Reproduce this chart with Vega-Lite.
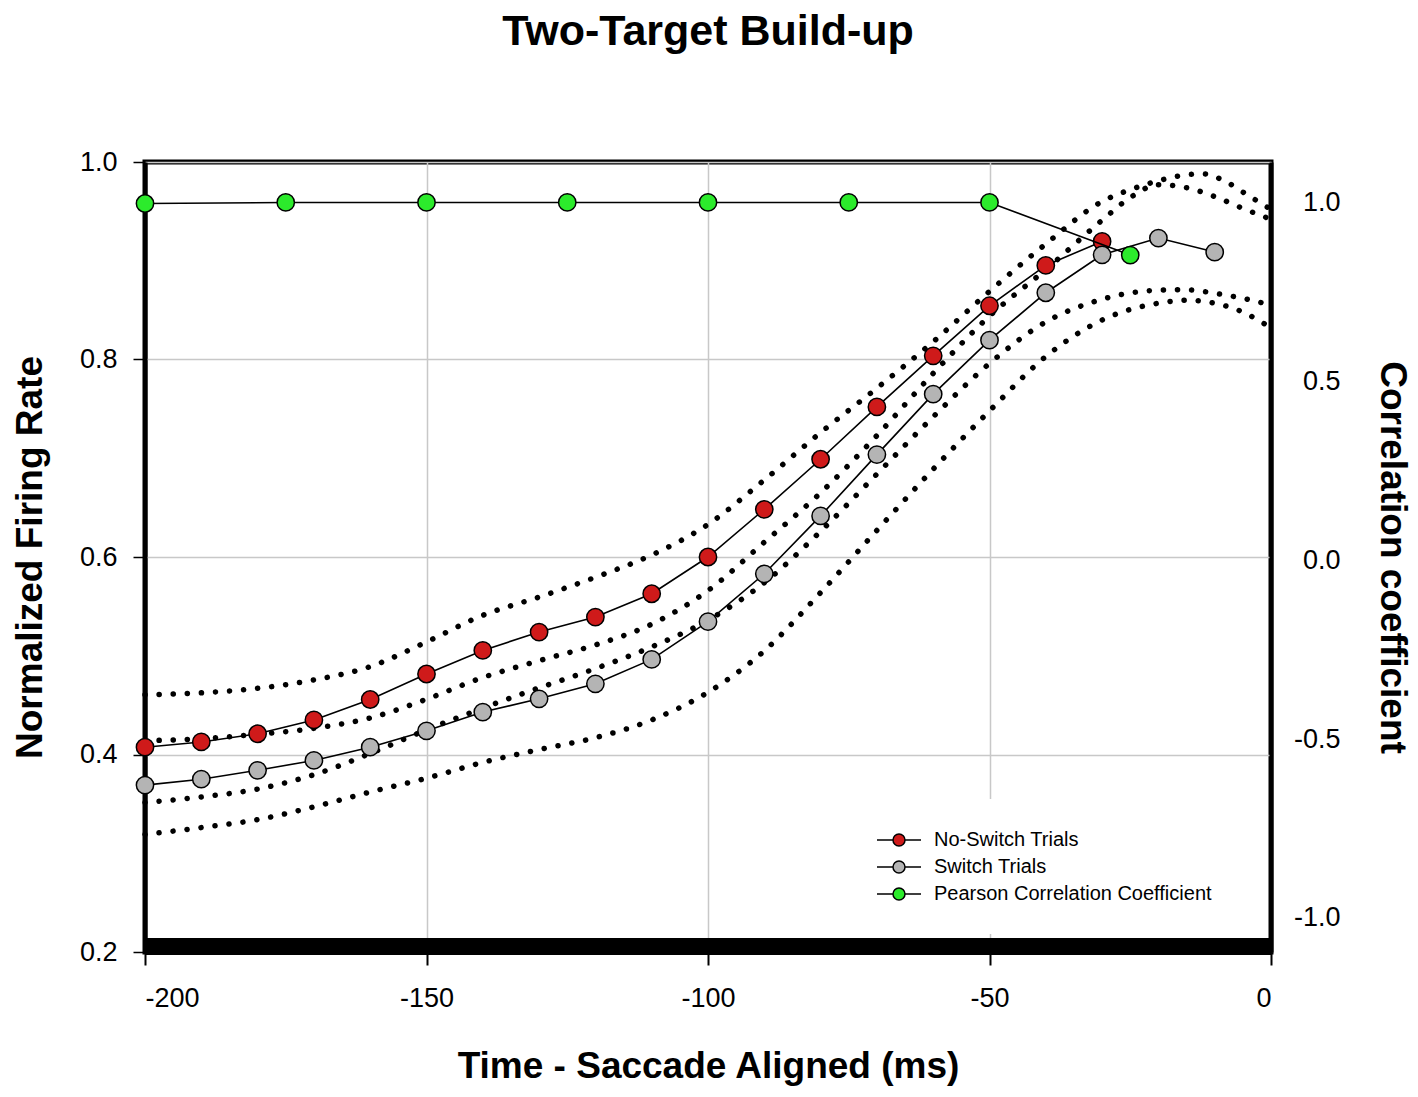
{
  "$schema": "https://vega.github.io/schema/vega-lite/v6.json",
  "width": 1126,
  "height": 790,
  "autosize": {"type": "none"},
  "padding": {"left": 145, "top": 162, "right": 147, "bottom": 145},
  "background": "white",
  "title": {
    "text": "Two-Target Build-up",
    "fontSize": 43,
    "fontWeight": "bold",
    "font": "Liberation Sans, Arial, sans-serif",
    "anchor": "middle",
    "frame": "group",
    "baseline": "alphabetic",
    "offset": 60,
    "color": "black"
  },
  "datasets": {
    "obs": [
      {"series": "No-Switch Trials", "t": -200, "rate": 0.4074},
      {"series": "No-Switch Trials", "t": -190, "rate": 0.4127},
      {"series": "No-Switch Trials", "t": -180, "rate": 0.421},
      {"series": "No-Switch Trials", "t": -170, "rate": 0.435},
      {"series": "No-Switch Trials", "t": -160, "rate": 0.4557},
      {"series": "No-Switch Trials", "t": -150, "rate": 0.4815},
      {"series": "No-Switch Trials", "t": -140, "rate": 0.5054},
      {"series": "No-Switch Trials", "t": -130, "rate": 0.524},
      {"series": "No-Switch Trials", "t": -120, "rate": 0.5392},
      {"series": "No-Switch Trials", "t": -110, "rate": 0.5628},
      {"series": "No-Switch Trials", "t": -100, "rate": 0.6},
      {"series": "No-Switch Trials", "t": -90, "rate": 0.6483},
      {"series": "No-Switch Trials", "t": -80, "rate": 0.699},
      {"series": "No-Switch Trials", "t": -70, "rate": 0.752},
      {"series": "No-Switch Trials", "t": -60, "rate": 0.8037},
      {"series": "No-Switch Trials", "t": -50, "rate": 0.8544},
      {"series": "No-Switch Trials", "t": -40, "rate": 0.8953},
      {"series": "No-Switch Trials", "t": -30, "rate": 0.9196},
      {"series": "Switch Trials", "t": -200, "rate": 0.369},
      {"series": "Switch Trials", "t": -190, "rate": 0.375},
      {"series": "Switch Trials", "t": -180, "rate": 0.384},
      {"series": "Switch Trials", "t": -170, "rate": 0.394},
      {"series": "Switch Trials", "t": -160, "rate": 0.4074},
      {"series": "Switch Trials", "t": -150, "rate": 0.424},
      {"series": "Switch Trials", "t": -140, "rate": 0.443},
      {"series": "Switch Trials", "t": -130, "rate": 0.4564},
      {"series": "Switch Trials", "t": -120, "rate": 0.4716},
      {"series": "Switch Trials", "t": -110, "rate": 0.4963},
      {"series": "Switch Trials", "t": -100, "rate": 0.5345},
      {"series": "Switch Trials", "t": -90, "rate": 0.583},
      {"series": "Switch Trials", "t": -80, "rate": 0.6416},
      {"series": "Switch Trials", "t": -70, "rate": 0.7037},
      {"series": "Switch Trials", "t": -60, "rate": 0.7649},
      {"series": "Switch Trials", "t": -50, "rate": 0.8196},
      {"series": "Switch Trials", "t": -40, "rate": 0.8676},
      {"series": "Switch Trials", "t": -30, "rate": 0.906},
      {"series": "Switch Trials", "t": -20, "rate": 0.923},
      {"series": "Switch Trials", "t": -10, "rate": 0.9088}
    ],
    "corr": [
      {"series": "Pearson Correlation Coefficient", "t": -200, "r": 0.996},
      {"series": "Pearson Correlation Coefficient", "t": -175, "r": 0.999},
      {"series": "Pearson Correlation Coefficient", "t": -150, "r": 0.999},
      {"series": "Pearson Correlation Coefficient", "t": -125, "r": 0.999},
      {"series": "Pearson Correlation Coefficient", "t": -100, "r": 0.999},
      {"series": "Pearson Correlation Coefficient", "t": -75, "r": 0.999},
      {"series": "Pearson Correlation Coefficient", "t": -50, "r": 0.999},
      {"series": "Pearson Correlation Coefficient", "t": -25, "r": 0.852}
    ],
    "ci": [
      {"band": "A", "t": -200, "v": 0.4605}, {"band": "A", "t": -190, "v": 0.4625},
      {"band": "A", "t": -180, "v": 0.467}, {"band": "A", "t": -170, "v": 0.4755},
      {"band": "A", "t": -160, "v": 0.489}, {"band": "A", "t": -150, "v": 0.514},
      {"band": "A", "t": -140, "v": 0.541}, {"band": "A", "t": -130, "v": 0.5595},
      {"band": "A", "t": -120, "v": 0.5795}, {"band": "A", "t": -110, "v": 0.602},
      {"band": "A", "t": -100, "v": 0.633}, {"band": "A", "t": -90, "v": 0.678},
      {"band": "A", "t": -80, "v": 0.726}, {"band": "A", "t": -70, "v": 0.771},
      {"band": "A", "t": -60, "v": 0.818}, {"band": "A", "t": -50, "v": 0.869},
      {"band": "A", "t": -40, "v": 0.917}, {"band": "A", "t": -30, "v": 0.96},
      {"band": "A", "t": -25, "v": 0.972}, {"band": "A", "t": -20, "v": 0.981},
      {"band": "A", "t": -15, "v": 0.987}, {"band": "A", "t": -12, "v": 0.988},
      {"band": "A", "t": -8, "v": 0.98}, {"band": "A", "t": -4, "v": 0.966},
      {"band": "A", "t": 0, "v": 0.952},
      {"band": "B", "t": -200, "v": 0.414}, {"band": "B", "t": -190, "v": 0.416},
      {"band": "B", "t": -180, "v": 0.4205}, {"band": "B", "t": -170, "v": 0.4265},
      {"band": "B", "t": -160, "v": 0.437}, {"band": "B", "t": -150, "v": 0.456},
      {"band": "B", "t": -140, "v": 0.478}, {"band": "B", "t": -130, "v": 0.495},
      {"band": "B", "t": -120, "v": 0.511}, {"band": "B", "t": -110, "v": 0.532},
      {"band": "B", "t": -100, "v": 0.566}, {"band": "B", "t": -90, "v": 0.615},
      {"band": "B", "t": -80, "v": 0.665}, {"band": "B", "t": -70, "v": 0.723},
      {"band": "B", "t": -60, "v": 0.786}, {"band": "B", "t": -50, "v": 0.844},
      {"band": "B", "t": -40, "v": 0.891}, {"band": "B", "t": -30, "v": 0.941},
      {"band": "B", "t": -25, "v": 0.964}, {"band": "B", "t": -20, "v": 0.977},
      {"band": "B", "t": -15, "v": 0.974}, {"band": "B", "t": -10, "v": 0.965},
      {"band": "B", "t": -5, "v": 0.953}, {"band": "B", "t": 0, "v": 0.942},
      {"band": "C", "t": -200, "v": 0.3515}, {"band": "C", "t": -190, "v": 0.357},
      {"band": "C", "t": -180, "v": 0.365}, {"band": "C", "t": -170, "v": 0.3795},
      {"band": "C", "t": -160, "v": 0.401}, {"band": "C", "t": -150, "v": 0.425},
      {"band": "C", "t": -140, "v": 0.447}, {"band": "C", "t": -130, "v": 0.4675},
      {"band": "C", "t": -120, "v": 0.487}, {"band": "C", "t": -110, "v": 0.509},
      {"band": "C", "t": -100, "v": 0.536}, {"band": "C", "t": -90, "v": 0.574},
      {"band": "C", "t": -80, "v": 0.626}, {"band": "C", "t": -70, "v": 0.684},
      {"band": "C", "t": -60, "v": 0.742}, {"band": "C", "t": -50, "v": 0.796},
      {"band": "C", "t": -40, "v": 0.838}, {"band": "C", "t": -30, "v": 0.861},
      {"band": "C", "t": -20, "v": 0.8702}, {"band": "C", "t": -15, "v": 0.8706},
      {"band": "C", "t": -10, "v": 0.867}, {"band": "C", "t": -5, "v": 0.862},
      {"band": "C", "t": 0, "v": 0.855},
      {"band": "D", "t": -200, "v": 0.319}, {"band": "D", "t": -190, "v": 0.326},
      {"band": "D", "t": -180, "v": 0.334}, {"band": "D", "t": -170, "v": 0.347},
      {"band": "D", "t": -160, "v": 0.362}, {"band": "D", "t": -150, "v": 0.376},
      {"band": "D", "t": -140, "v": 0.392}, {"band": "D", "t": -130, "v": 0.405},
      {"band": "D", "t": -120, "v": 0.417}, {"band": "D", "t": -110, "v": 0.435},
      {"band": "D", "t": -100, "v": 0.463}, {"band": "D", "t": -90, "v": 0.505},
      {"band": "D", "t": -80, "v": 0.564}, {"band": "D", "t": -70, "v": 0.627},
      {"band": "D", "t": -60, "v": 0.689}, {"band": "D", "t": -50, "v": 0.748},
      {"band": "D", "t": -40, "v": 0.803}, {"band": "D", "t": -30, "v": 0.84},
      {"band": "D", "t": -20, "v": 0.857}, {"band": "D", "t": -15, "v": 0.86},
      {"band": "D", "t": -10, "v": 0.857}, {"band": "D", "t": -5, "v": 0.848},
      {"band": "D", "t": 0, "v": 0.832}
    ]
  },
  "layer": [
    {
      "encoding": {
        "x": {
          "type": "quantitative",
          "scale": {"domain": [-200, 0], "nice": false, "zero": false},
          "axis": {
            "values": [-200, -150, -100, -50, 0],
            "labelExpr": "replace(datum.label, '\u2212', '-')",
            "title": "Time - Saccade Aligned (ms)",
            "titleFontSize": 37,
            "titleFontWeight": "bold",
            "labelFontSize": 27,
            "domainWidth": 17,
            "offset": -6,
            "tickSize": 19,
            "tickWidth": 2,
            "labelPadding": 20,
            "titlePadding": 37,
            "grid": true
          }
        },
        "y": {
          "type": "quantitative",
          "scale": {"domain": [0.2, 1.0], "nice": false, "zero": false},
          "axis": {
            "orient": "left",
            "values": [0.2, 0.4, 0.6, 0.8, 1.0],
            "format": ".1f",
            "title": "Normalized Firing Rate",
            "titleFontSize": 37,
            "titleFontWeight": "bold",
            "labelFontSize": 27,
            "domainWidth": 4,
            "tickSize": 12,
            "tickWidth": 1.5,
            "labelPadding": 16,
            "titlePadding": 30,
            "grid": true
          }
        }
      },
      "layer": [
        {
          "data": {"name": "ci"},
          "mark": {
            "type": "line",
            "interpolate": "monotone",
            "color": "black",
            "strokeWidth": 5.5,
            "strokeCap": "round",
            "strokeDash": [0.1, 14]
          },
          "encoding": {
            "x": {"field": "t"},
            "y": {"field": "v"},
            "detail": {"field": "band", "type": "nominal"}
          }
        },
        {
          "data": {"name": "obs"},
          "mark": {"type": "line", "color": "black", "strokeWidth": 1.6},
          "encoding": {
            "x": {"field": "t"},
            "y": {"field": "rate"},
            "detail": {"field": "series", "type": "nominal"}
          }
        },
        {
          "data": {"name": "obs"},
          "mark": {"type": "point", "filled": true, "size": 300, "stroke": "black", "strokeWidth": 1.5, "opacity": 1},
          "encoding": {
            "x": {"field": "t"},
            "y": {"field": "rate"},
            "color": {"field": "series", "type": "nominal"}
          }
        }
      ]
    },
    {
      "data": {"name": "corr"},
      "encoding": {
        "x": {"field": "t", "type": "quantitative"},
        "y": {
          "field": "r",
          "type": "quantitative",
          "scale": {"domain": [-1.095, 1.112], "nice": false, "zero": false},
          "axis": {
            "orient": "right",
            "values": [-1, -0.5, 0, 0.5, 1],
            "format": ".1f",
            "labelExpr": "replace(datum.label, '\u2212', '-')",
            "title": "Correlation coefficient",
            "titleFontSize": 37,
            "titleFontWeight": "bold",
            "labelFontSize": 27,
            "labelAlign": "right",
            "domainWidth": 4,
            "ticks": false,
            "tickSize": 0,
            "labelPadding": 69,
            "titlePadding": 32,
            "grid": false
          }
        }
      },
      "layer": [
        {
          "mark": {"type": "line", "color": "black", "strokeWidth": 1.6}
        },
        {
          "mark": {"type": "point", "filled": true, "size": 300, "stroke": "black", "strokeWidth": 1.5, "opacity": 1},
          "encoding": {
            "color": {"field": "series", "type": "nominal"}
          }
        }
      ]
    }
  ],
  "resolve": {"scale": {"y": "independent"}},
  "encoding": {
    "color": {
      "type": "nominal",
      "scale": {
        "domain": ["No-Switch Trials", "Switch Trials", "Pearson Correlation Coefficient"],
        "range": ["#cf1a1a", "#b4b4b4", "#2ceb2c"]
      },
      "legend": {
        "title": null,
        "orient": "none",
        "legendX": 713,
        "legendY": 637,
        "padding": 30,
        "fillColor": "white",
        "symbolType": "M -2.2 0 L -0.6 0 M 0.6 0 L 2.2 0 M -0.6 0 A 0.6 0.6 0 1 0 0.6 0 A 0.6 0.6 0 1 0 -0.6 0 Z",
        "symbolSize": 400,
        "symbolStrokeColor": "black",
        "symbolStrokeWidth": 1.5,
        "symbolOpacity": 1,
        "labelFontSize": 20,
        "labelOffset": 24,
        "labelLimit": 0,
        "rowPadding": 6,
        "labelColor": "black"
      }
    }
  },
  "config": {
    "font": "Liberation Sans, Arial, sans-serif",
    "view": {"stroke": "black", "strokeWidth": 5},
    "axis": {
      "labelColor": "black",
      "titleColor": "black",
      "domainColor": "black",
      "tickColor": "black",
      "gridColor": "#c8c8c8",
      "gridWidth": 1.5,
      "labelFont": "Liberation Sans, Arial, sans-serif",
      "titleFont": "Liberation Sans, Arial, sans-serif"
    },
    "legend": {"labelFont": "Liberation Sans, Arial, sans-serif"}
  }
}
